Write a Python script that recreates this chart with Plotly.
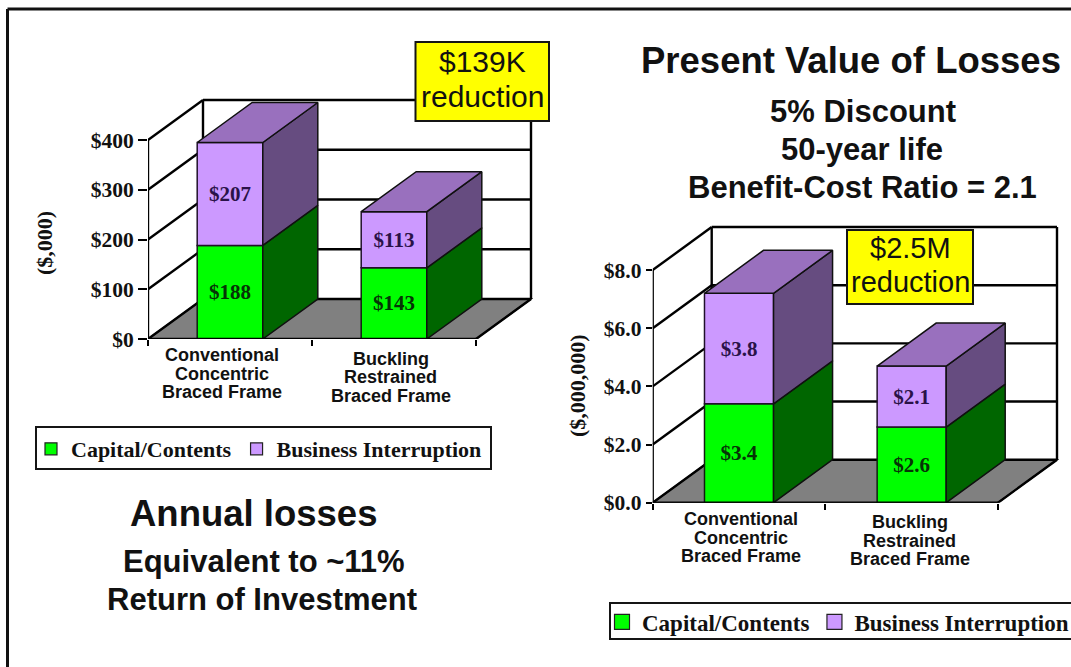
import plotly.graph_objects as go

W, H = 1071, 667

# ---------- data ----------
CATEGORY_LINES_ANNUAL = [["Conventional", "Concentric", "Braced Frame"], ["Buckling", "Restrained", "Braced Frame"]]
CATEGORY_LINES_PV = [["Conventional", "Concentric", "Braced Frame"], ["Buckling", "Restrained", "Braced Frame"]]
CAT_POS = [0.5, 1.5]
SERIES = ["Capital/Contents", "Business Interruption"]
ANNUAL_CAPITAL = [188, 143]
ANNUAL_BUSINESS = [207, 113]
ANNUAL_CAPITAL_TEXT = ["$188", "$143"]
ANNUAL_BUSINESS_TEXT = ["$207", "$113"]
ANNUAL_TICKS = [0, 100, 200, 300, 400]
ANNUAL_TICKTEXT = ["$0", "$100", "$200", "$300", "$400"]
PV_CAPITAL = [3.4, 2.6]
PV_BUSINESS = [3.8, 2.1]
PV_CAPITAL_TEXT = ["$3.4", "$2.6"]
PV_BUSINESS_TEXT = ["$3.8", "$2.1"]
PV_TICKS = [0, 2, 4, 6, 8]
PV_TICKTEXT = ["$0.0", "$2.0", "$4.0", "$6.0", "$8.0"]

GREEN, GREEN_SIDE = "#00FF00", "#006600"
PURPLE, PURPLE_SIDE, PURPLE_TOP = "#CC99FF", "#664C80", "#9970BE"
FLOOR = "#808080"
SERIF = "Liberation Serif"
SANS = "Liberation Sans"
INK = "#111111"
WALL_LINE = dict(color="black", width=2.4)


def px(x):
    return x / W


def py(y):
    return 1 - y / H


fig = go.Figure()
shapes, annos = [], []


def chart(xa, ya, left, base, xscale, yscale, dx_px, dy_px, yrange_top, ticks, ticktext,
          cap, bus, cap_text, bus_text, ticklen, cat_lines, cat_x_off, label_y, legend, key_size):
    xname, yname = ("x", "y") if xa == "xaxis" else ("x2", "y2")
    xmax = 2.4
    dx = dx_px / xscale
    dy = dy_px / yscale
    fig.update_layout({
        xa: dict(domain=[px(left), px(left + xmax * xscale)], range=[0, xmax], anchor=yname,
                 showgrid=False, zeroline=False, showline=False, showticklabels=False,
                 tickmode="array", tickvals=CAT_POS, ticks="",
                 minor=dict(tickmode="array", tickvals=[0, 1, 2], ticks="outside", ticklen=6,
                            tickwidth=2, tickcolor="black", showgrid=False)),
        ya: dict(domain=[py(base), py(base - yrange_top * yscale)], range=[0, yrange_top], anchor=xname,
                 showgrid=False, zeroline=False, showline=False,
                 tickmode="array", tickvals=ticks, ticktext=ticktext, ticks="outside",
                 ticklen=ticklen, tickwidth=2, tickcolor="black",
                 tickfont=dict(family=SERIF, size=21.5, color=INK, weight="bold")),
    })
    top = ticks[-1]
    # floor and walls live below the bars
    floor_path = f"M 0 0 L {dx} {dy} L {2+dx} {dy} L 2 0 Z"
    shapes.append(dict(type="path", path=floor_path, xref=xname, yref=yname, layer="below",
                       fillcolor=FLOOR, line=dict(color="black", width=1.5)))
    for t in ticks:
        shapes.append(dict(type="line", xref=xname, yref=yname, layer="below", x0=0, y0=t, x1=dx, y1=t + dy,
                           line=WALL_LINE))
        shapes.append(dict(type="line", xref=xname, yref=yname, layer="below", x0=dx, y0=t + dy, x1=2 + dx, y1=t + dy,
                           line=WALL_LINE))
    for xv, y0, y1 in [(dx, dy, top + dy), (2 + dx, dy, top + dy)]:
        shapes.append(dict(type="line", xref=xname, yref=yname, layer="below", x0=xv, y0=y0, x1=xv, y1=y1,
                           line=WALL_LINE))
    shapes.append(dict(type="line", xref=xname, yref=yname, layer="below", x0=2, y0=0, x1=2 + dx, y1=dy,
                       line=WALL_LINE))

    # front faces
    fig.add_trace(go.Bar(x=CAT_POS, y=cap, width=0.4, xaxis=xname, yaxis=yname, marker=dict(color=GREEN, line=dict(color="#102010", width=1.5)),
                         text=cap_text, textposition="inside", insidetextanchor="middle", textangle=0, constraintext="none",
                         textfont=dict(family=SERIF, size=21, color="#063306", weight="bold"), showlegend=False, hoverinfo="skip"))
    fig.add_trace(go.Bar(x=CAT_POS, y=bus, width=0.4, base=cap, xaxis=xname, yaxis=yname, marker=dict(color=PURPLE, line=dict(color="#20102a", width=1.5)),
                         text=bus_text, textposition="inside", insidetextanchor="middle", textangle=0, constraintext="none",
                         textfont=dict(family=SERIF, size=21, color="#2a1248", weight="bold"), showlegend=False, hoverinfo="skip"))

    # side and top faces
    edge = dict(color="#101010", width=1.5)
    for c, a, b in zip(CAT_POS, cap, bus):
        x0, x1 = c - 0.2, c + 0.2
        t = a + b
        for lo, hi, col in [(0, a, GREEN_SIDE), (a, t, PURPLE_SIDE)]:
            fig.add_trace(go.Scatter(x=[x1, x1 + dx, x1 + dx, x1, x1], y=[lo, lo + dy, hi + dy, hi, lo],
                                     xaxis=xname, yaxis=yname, mode="lines", fill="toself", fillcolor=col, line=edge,
                                     showlegend=False, hoverinfo="skip", cliponaxis=False))
        fig.add_trace(go.Scatter(x=[x0, x0 + dx, x1 + dx, x1, x0], y=[t, t + dy, t + dy, t, t],
                                 xaxis=xname, yaxis=yname, mode="lines", fill="toself", fillcolor=PURPLE_TOP, line=edge,
                                 showlegend=False, hoverinfo="skip", cliponaxis=False))

    # front axis lines
    fig.add_trace(go.Scatter(x=[0, 0, 2], y=[top, 0, 0], xaxis=xname, yaxis=yname, mode="lines",
                             line=WALL_LINE, showlegend=False, hoverinfo="skip", cliponaxis=False))

    # category labels, one line each so that the line spacing matches
    for c, lines, off, y0 in zip(CAT_POS, cat_lines, cat_x_off, label_y):
        for i, line in enumerate(lines):
            annos.append(dict(text=f"<b>{line}</b>", x=c + off, xref=xname, y=py(y0 + i * 18.5), yref="paper",
                              xanchor="center", yanchor="middle", showarrow=False,
                              font=dict(family=SANS, size=18, color=INK)))

    # legend keys
    for name, col in zip(SERIES, [GREEN, PURPLE]):
        fig.add_trace(go.Scatter(x=[None], y=[None], xaxis=xname, yaxis=yname, mode="markers", name=name, legend=legend,
                                 marker=dict(symbol="square", size=key_size, color=col, line=dict(color="#222222", width=1.2)),
                                 hoverinfo="skip"))


chart("xaxis", "yaxis", 148, 339, 164, 0.4975, 55, 40, 500, ANNUAL_TICKS, ANNUAL_TICKTEXT,
      ANNUAL_CAPITAL, ANNUAL_BUSINESS, ANNUAL_CAPITAL_TEXT, ANNUAL_BUSINESS_TEXT, 9,
      CATEGORY_LINES_ANNUAL, [-0.05, -0.02], [355, 359], "legend", 12)
chart("xaxis2", "yaxis2", 652.7, 502.7, 172.65, 29.08, 59, 43, 10, PV_TICKS, PV_TICKTEXT,
      PV_CAPITAL, PV_BUSINESS, PV_CAPITAL_TEXT, PV_BUSINESS_TEXT, 6,
      CATEGORY_LINES_PV, [0.01, -0.01], [519, 522], "legend2", 15)


def text(s, xc, yc, size, bold=True, family=SANS, angle=0, color=INK):
    annos.append(dict(text=f"<b>{s}</b>" if bold else s, x=px(xc), y=py(yc), xref="paper", yref="paper",
                      xanchor="center", yanchor="middle", showarrow=False, textangle=angle,
                      font=dict(family=family, size=size, color=color)))


def box(x0, y0, x1, y1, fill, width=2):
    shapes.append(dict(type="rect", xref="paper", yref="paper", x0=px(x0), x1=px(x1), y0=py(y0), y1=py(y1),
                       fillcolor=fill, line=dict(color="#151515", width=width), layer="above"))


# yellow callouts
box(415.5, 42, 549, 121, "#FFFF00")
text("$139K", 482, 61, 30, bold=False)
text("reduction", 482, 97, 30, bold=False)
box(847, 230, 973, 304, "#FFFF00")
text("$2.5M", 910, 248, 29, bold=False)
text("reduction", 910, 282, 29, bold=False)

# axis titles
text("($,000)", 44, 243, 22, family=SERIF, angle=-90)
text("($,000,000)", 577, 386, 22, family=SERIF, angle=-90)

# headings
text("Present Value of Losses", 851, 60, 36.5)
text("5% Discount", 863, 112, 31)
text("50-year life", 862, 149, 31)
text("Benefit-Cost Ratio = 2.1", 862, 187, 31)
text("Annual losses", 253, 513, 36.5)
text("Equivalent to ~11%", 264, 561, 31)
text("Return of Investment", 262, 599, 31)

# legend frames
box(36, 427, 491, 469, "rgba(0,0,0,0)")
box(610, 603, 1090, 639, "rgba(0,0,0,0)")

# outer page frame
shapes.append(dict(type="line", xref="paper", yref="paper", x0=px(7.5), x1=px(7.5), y0=py(9), y1=0,
                   line=dict(color="#111111", width=3), layer="above"))
shapes.append(dict(type="line", xref="paper", yref="paper", x0=px(7.5), x1=1, y0=py(9), y1=py(9),
                   line=dict(color="#111111", width=3), layer="above"))

fig.update_layout(
    width=W, height=H, autosize=False,
    margin=dict(l=0, r=0, t=0, b=0, pad=0, autoexpand=False),
    paper_bgcolor="white", plot_bgcolor="rgba(0,0,0,0)",
    barmode="overlay",
    font=dict(family=SERIF, color=INK),
    shapes=shapes, annotations=annos,
    legend=dict(orientation="h", x=px(31), y=py(449), xanchor="left", yanchor="middle", bgcolor="rgba(0,0,0,0)",
                font=dict(family=SERIF, size=22, color=INK, weight="bold"), itemwidth=30, borderwidth=0),
    legend2=dict(orientation="h", x=px(602), y=py(622), xanchor="left", yanchor="middle", bgcolor="rgba(0,0,0,0)",
                 font=dict(family=SERIF, size=23, color=INK, weight="bold"), itemwidth=30, borderwidth=0),
)
fig.write_html("out.html", post_script="document.body.style.margin='0';document.body.style.overflow='hidden';",
               config={"displayModeBar": False})
